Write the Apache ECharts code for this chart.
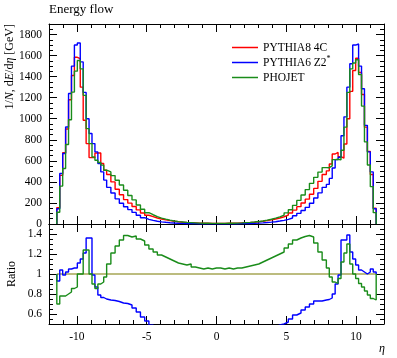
<!DOCTYPE html>
<html>
<head>
<meta charset="utf-8">
<script src="https://cdn.jsdelivr.net/npm/echarts@6/dist/echarts.min.js"></script>
<style>html,body{margin:0;padding:0;background:#fff}#c{width:397px;height:358px}</style>
</head>
<body>
<div id="c"></div>
<script>
// ---- data ----
// bin edge layout: [from, to, number of bins]
const edgeSegments = [[-11.44, -7.87, 17], [-7.87, 7.87, 52], [7.87, 11.44, 17]];

const seriesNames = ['PYTHIA8 4C', 'PYTHIA6 Z2*', 'PHOJET'];

const pythia8 = [
  156, 462, 677, 903, 1181, 1411, 1584, 1570, 1300, 985, 764, 631, 631, 675, 675, 575, 510,
  470, 400, 330, 278, 232, 198, 166, 134, 105, 83, 70, 57, 47, 39, 32, 26, 21, 17, 14, 12, 10, 8, 7, 6.5, 6, 6,
  6, 6, 6.5, 7, 8, 10, 12, 14, 17, 21, 26, 32, 39, 47, 57, 69, 84, 104, 132, 165, 200, 236, 282, 338, 405, 470,
  505, 570, 665, 680, 640, 625, 760, 1000, 1260, 1458, 1575, 1440, 1230, 920, 690, 470, 150
];
const pythia6 = [
  145, 480, 670, 921, 1240, 1500, 1700, 1720, 1540, 1250, 1000, 860, 764, 685, 575, 495, 417,
  348, 294, 239, 197, 164, 137, 110, 83, 60, 44, 34, 26, 20, 16, 12.5, 9.6, 7.6, 6, 4.8, 4.1, 3.3, 2.6, 2.3, 2.1, 2, 2,
  2, 2, 2.1, 2.3, 2.7, 3.4, 4.2, 5, 6.3, 8.2, 10.7, 13.8, 17.6, 22, 28, 34.5, 43.7, 57, 78, 101, 128, 158, 197, 247, 296, 348,
  376, 433, 532, 612, 634, 838, 1018, 1300, 1522, 1700, 1710, 1500, 1285, 937, 685, 495, 145
];
const phojet = [
  112, 360, 527, 755, 991, 1253, 1452, 1553, 1474, 1222, 906, 764, 637, 606, 584, 559, 511,
  495, 460, 415, 370, 321, 271, 229, 181, 140, 107, 88, 70, 56, 46, 37, 29, 23, 19, 15, 13, 11, 8.5, 7.4, 6.9, 6.3, 6.4,
  6.4, 6.3, 6.9, 7.4, 8.5, 10.6, 12.8, 15.1, 18.5, 23.1, 29.1, 36.5, 45.2, 55.5, 68.4, 84.2, 105.8, 135.2, 177, 224, 275, 327, 386, 443, 493, 536,
  535, 553, 612, 615, 611, 700, 920, 1250, 1474, 1530, 1560, 1420, 1120, 780, 560, 355, 108
];
const ratioPythia6 = [
  0.93, 1.04, 0.99, 1.02, 1.05, 1.06, 1.06, 1.11, 1.15, 1.21, 1.36, 1.36, 0.99, 0.87, 0.79, 0.765, 0.75,
  0.74, 0.735, 0.725, 0.71, 0.705, 0.69, 0.66, 0.62, 0.57, 0.53, 0.49, 0.46, 0.43, 0.41, 0.39, 0.37, 0.36, 0.35, 0.34, 0.34, 0.33, 0.33, 0.33, 0.33, 0.33, 0.33,
  0.33, 0.33, 0.33, 0.33, 0.34, 0.34, 0.35, 0.36, 0.37, 0.39, 0.41, 0.43, 0.45, 0.47, 0.49, 0.50, 0.52, 0.55, 0.59, 0.61, 0.64, 0.67, 0.70, 0.73, 0.73, 0.74,
  0.745, 0.76, 0.80, 0.90, 0.99, 1.34, 1.34, 1.39, 1.22, 1.15, 1.09, 1.04, 1.02, 1.00, 1.02, 1.05, 1.02
];
const ratioPhojet = [
  0.70, 0.78, 0.78, 0.80, 0.82, 0.855, 0.87, 1.00, 1.00, 1.24, 1.24, 1.00, 0.90, 0.855, 0.90, 0.92, 0.97,
  1.10, 1.21, 1.28, 1.34, 1.385, 1.37, 1.38, 1.35, 1.33, 1.29, 1.25, 1.22, 1.19, 1.17, 1.15, 1.13, 1.11, 1.10, 1.09, 1.10, 1.07, 1.06, 1.05, 1.06, 1.05, 1.06,
  1.06, 1.05, 1.06, 1.05, 1.06, 1.06, 1.07, 1.08, 1.09, 1.10, 1.12, 1.14, 1.16, 1.18, 1.20, 1.22, 1.26, 1.30, 1.34, 1.36, 1.375, 1.385, 1.37, 1.31, 1.22, 1.14,
  1.06, 0.97, 0.92, 0.905, 0.955, 1.12, 1.21, 1.30, 1.10, 1.00, 0.955, 0.905, 0.87, 0.83, 0.79, 0.755, 0.74
];
const refRatio = 1;

const xTickLabels = [-10, -5, 0, 5, 10];
const ratioTickLabels = [0.6, 0.8, 1, 1.2, 1.4];

// ---- build ----
function buildEdges() {
  const e = [];
  edgeSegments.forEach(([a, b, n], si) => {
    for (let k = (si === 0 ? 0 : 1); k <= n; k++) e.push(+(a + (b - a) * k / n).toFixed(5));
  });
  return e;
}
const edges = buildEdges();
function histPoints(vals, base) {
  const pts = [[edges[0], base]];
  vals.forEach((v, i) => pts.push([edges[i], v]));
  pts.push([edges[vals.length], vals[vals.length - 1]]);
  pts.push([edges[vals.length], base]);
  return pts;
}

const FONT = 'Liberation Serif';
const black = '#000';
const colors = ['#ff0000', '#0000ff', '#1a8c1a'];
const plain = v => String(+v.toFixed(4));

function xAx(grid, pos, major, labels) {
  const o = {
    type: 'value', gridIndex: grid, position: pos, min: -12, max: 12,
    axisLine: { show: !major, onZero: false, lineStyle: { color: black, width: 1 } },
    axisTick: { show: true, inside: true, length: major ? 8 : 4, lineStyle: { color: black } },
    axisLabel: { show: false },
    splitLine: { show: false }
  };
  if (major) {
    o.axisTick.customValues = xTickLabels;
    if (labels) o.axisLabel = { show: true, customValues: xTickLabels, formatter: plain, color: black, fontFamily: FONT, fontSize: 11.5, margin: 7 };
  } else {
    o.interval = 1;
  }
  return o;
}
function yRatio(pos, major, labels) {
  const o = {
    type: 'value', gridIndex: 1, position: pos, min: 0.5, max: 1.5,
    axisLine: { show: !major, onZero: false, lineStyle: { color: black, width: 1 } },
    axisTick: { show: true, inside: true, length: major ? 8 : 4, lineStyle: { color: black } },
    axisLabel: { show: false },
    splitLine: { show: false }
  };
  if (major) {
    o.axisTick.customValues = ratioTickLabels;
    if (labels) o.axisLabel = { show: true, customValues: ratioTickLabels, formatter: plain, color: black, fontFamily: FONT, fontSize: 11.5, margin: 7 };
  } else {
    o.interval = 0.05;
  }
  return o;
}
function yTop(pos, labels) {
  return {
    type: 'value', gridIndex: 0, position: pos, min: 0, max: 1900, interval: 200,
    axisLine: { show: true, onZero: false, lineStyle: { color: black, width: 1 } },
    axisTick: { show: true, inside: true, length: 8, lineStyle: { color: black } },
    minorTick: { show: true, splitNumber: 4, length: 4, lineStyle: { color: black } },
    axisLabel: { show: labels, showMaxLabel: false, formatter: plain, color: black, fontFamily: FONT, fontSize: 11.5, margin: 7 },
    splitLine: { show: false }, minorSplitLine: { show: false }
  };
}

const series = [];
[pythia8, pythia6, phojet].forEach((vals, i) => {
  series.push({
    name: seriesNames[i], type: 'line', step: 'end', xAxisIndex: 0, yAxisIndex: 0,
    data: histPoints(vals, 0), showSymbol: false, symbol: 'none', clip: true,
    lineStyle: { color: colors[i], width: 1.4 }, itemStyle: { color: colors[i] }, z: 3 + i
  });
});
series.push({
  name: 'ref', type: 'line', xAxisIndex: 4, yAxisIndex: 2,
  data: [[edges[0], refRatio], [edges[edges.length - 1], refRatio]],
  showSymbol: false, symbol: 'none', lineStyle: { color: '#7a7a00', width: 1.2 }, z: 2
});
[[ratioPythia6, 1], [ratioPhojet, 2]].forEach(([vals, ci]) => {
  series.push({
    name: 'ratio ' + seriesNames[ci], type: 'line', step: 'end', xAxisIndex: 4, yAxisIndex: 2,
    data: histPoints(vals, refRatio), showSymbol: false, symbol: 'none', clip: true,
    lineStyle: { color: colors[ci], width: 1.4 }, z: 3 + ci
  });
});

const chart = echarts.init(document.getElementById('c'), null, { renderer: 'canvas' });
chart.setOption({
  animation: false,
  backgroundColor: '#fff',
  textStyle: { fontFamily: FONT },
  grid: [
    { left: 49, right: 13, top: 24, height: 200 },
    { left: 49, right: 13, top: 224, height: 100 }
  ],
  xAxis: [
    xAx(0, 'bottom', false), xAx(0, 'bottom', true, false),
    xAx(0, 'top', false), xAx(0, 'top', true, false),
    xAx(1, 'bottom', false), xAx(1, 'bottom', true, true),
    xAx(1, 'top', false), xAx(1, 'top', true, false)
  ],
  yAxis: [
    yTop('left', true), yTop('right', false),
    yRatio('left', false), yRatio('left', true, true),
    yRatio('right', false), yRatio('right', true, false)
  ],
  legend: {
    orient: 'vertical', left: 227, top: 35, itemWidth: 26, itemHeight: 1.5, itemGap: 0,
    icon: 'rect', data: seriesNames,
    formatter: n => n === 'PYTHIA6 Z2*' ? 'PYTHIA6 Z2{sup|*}' : n,
    textStyle: {
      fontFamily: FONT, fontSize: 11.5, color: black, lineHeight: 15,
      rich: { sup: { fontFamily: FONT, fontSize: 8, color: black, verticalAlign: 'top', lineHeight: 15, padding: [0, 0, 6, 0] } }
    }
  },
  graphic: [
    { type: 'text', left: 49, top: 3, style: { text: 'Energy flow', font: '13px "Liberation Serif"', fill: black } },
    { type: 'text', x: 10, y: 24, rotation: Math.PI / 2,
      style: { text: '1/{i|N}, d{i|E}/d{i|η} [GeV]', font: '12px "Liberation Serif"', fill: black, align: 'right', verticalAlign: 'middle',
        rich: { i: { font: 'italic 12px "Liberation Serif"', fill: black } } } },
    { type: 'text', x: 12, y: 274, rotation: Math.PI / 2,
      style: { text: 'Ratio', font: '12px "Liberation Serif"', fill: black, align: 'center', verticalAlign: 'middle' } },
    { type: 'text', x: 382, y: 349,
      style: { text: 'η', font: 'italic 12px "Liberation Serif"', fill: black, align: 'center', verticalAlign: 'middle' } }
  ],
  series: series
});
</script>
</body>
</html>
